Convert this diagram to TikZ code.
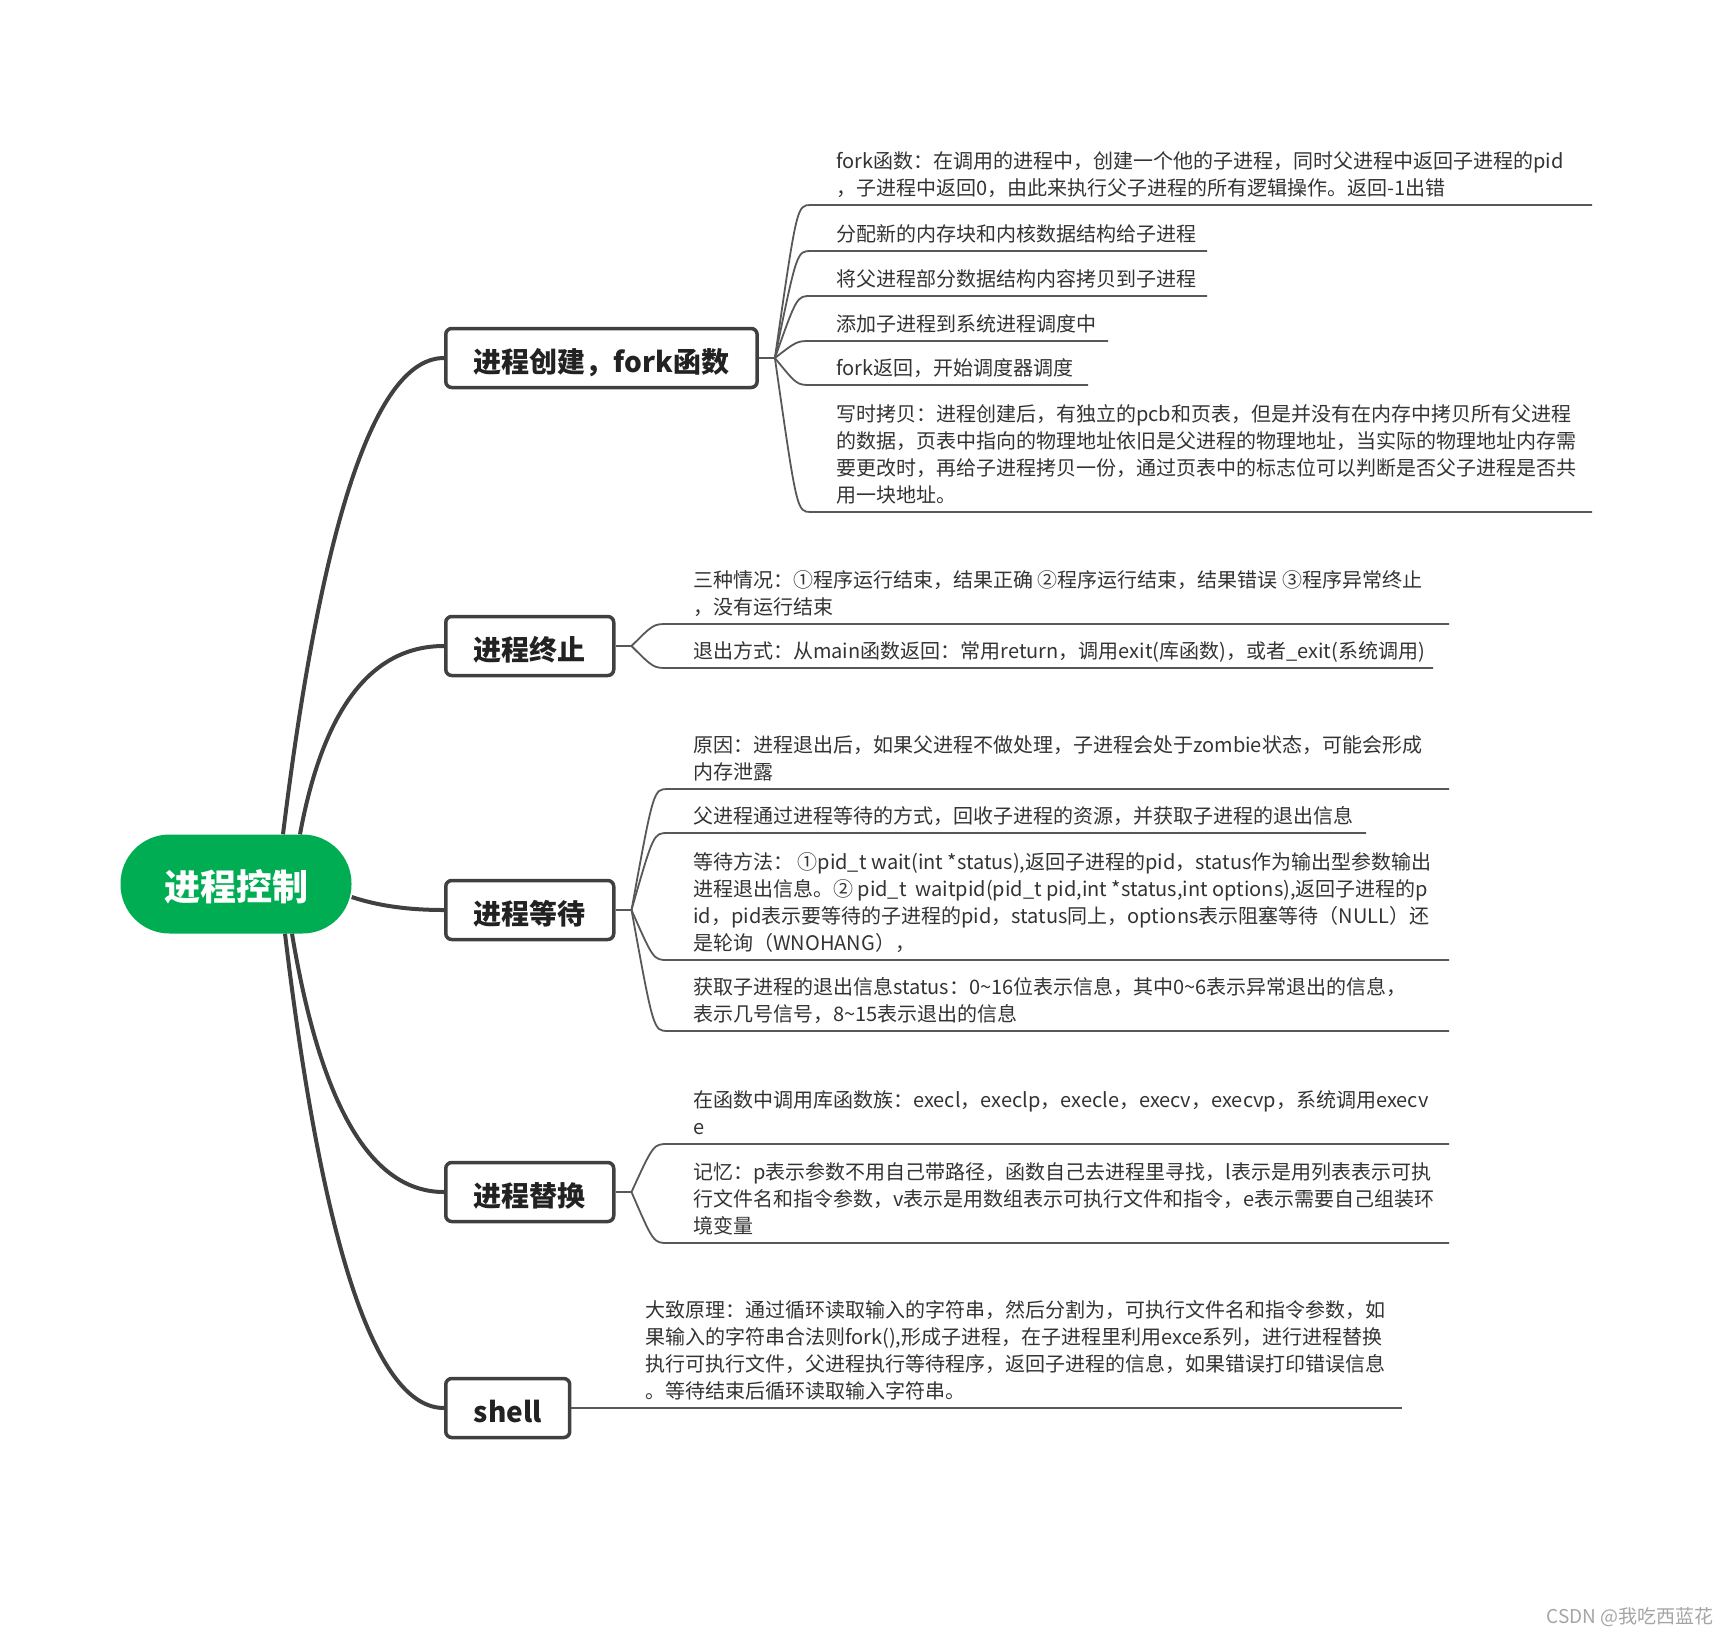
\documentclass[tikz,border=0pt]{standalone}
\usepackage{fontspec}
\setmainfont{Noto Sans CJK SC}
\usepackage{tikz}
\usetikzlibrary{positioning}
\definecolor{rootgreen}{RGB}{0,173,82}
\definecolor{linegray}{RGB}{64,64,64}
\definecolor{twiggray}{RGB}{88,88,88}
\definecolor{textgray}{RGB}{51,51,51}
\definecolor{topictext}{RGB}{34,34,34}
\definecolor{markgray}{RGB}{165,165,165}
\setlength{\parindent}{0pt}

\begin{document}
\begin{tikzpicture}[x=1pt, y=-1pt,
  root/.style={rectangle, rounded corners=49pt, fill=rootgreen, text=white,
               minimum width=231pt, minimum height=99pt,
               text height=33pt, text depth=1pt,
               font=\fontsize{36}{43}\selectfont\bfseries},
  topic/.style={rectangle, rounded corners=6pt, draw=linegray, line width=3.5pt,
                fill=white, anchor=west, minimum height=59pt, inner xsep=28pt,
                text height=28pt, text depth=0pt,
                text=topictext, font=\fontsize{28}{34}\selectfont\bfseries},
  leaf/.style={anchor=south west, inner xsep=0pt, inner ysep=1pt, align=left,
               text=textgray, font=\fontsize{20}{27}\selectfont},
  trunk/.style={draw=linegray, line width=4pt},
  twig/.style={draw=twiggray, line width=1.8pt},
  wmark/.style={anchor=east, inner sep=0pt, text=markgray, font=\fontsize{19}{22}\selectfont}
]
  \useasboundingbox (0,0) rectangle (1728,1635);

  \node[root]  (root) at (236,884)  {进程控制};
  \node[topic] (t1)   at (444,358)  {进程创建，fork函数};
  \node[topic] (t2)   at (444,646)  {进程终止};
  \node[topic] (t3)   at (444,910)  {进程等待};
  \node[topic] (t4)   at (444,1192) {进程替换};
  \node[topic] (t5)   at (444,1408) {shell};

  \node[leaf] (cr1) at (836,205) {fork函数：在调用的进程中，创建一个他的子进程，同时父进程中返回子进程的pid\\，子进程中返回0，由此来执行父子进程的所有逻辑操作。返回-1出错\strut};
  \node[leaf] (cr2) at (836,251) {分配新的内存块和内核数据结构给子进程\strut};
  \node[leaf] (cr3) at (836,296) {将父进程部分数据结构内容拷贝到子进程\strut};
  \node[leaf] (cr4) at (836,341) {添加子进程到系统进程调度中\strut};
  \node[leaf] (cr5) at (836,385) {fork返回，开始调度器调度\strut};
  \node[leaf] (cr6) at (836,512) {写时拷贝：进程创建后，有独立的pcb和页表，但是并没有在内存中拷贝所有父进程\\的数据，页表中指向的物理地址依旧是父进程的物理地址，当实际的物理地址内存需\\要更改时，再给子进程拷贝一份，通过页表中的标志位可以判断是否父子进程是否共\\用一块地址。\strut};

  \node[leaf] (te1) at (693,624) {三种情况：①程序运行结束，结果正确 ②程序运行结束，结果错误 ③程序异常终止\\，没有运行结束\strut};
  \node[leaf] (te2) at (693,668) {退出方式：从main函数返回：常用return，调用exit(库函数)，或者\_exit(系统调用)\strut};

  \node[leaf] (wa1) at (693,789)  {原因：进程退出后，如果父进程不做处理，子进程会处于zombie状态，可能会形成\\内存泄露\strut};
  \node[leaf] (wa2) at (693,833)  {父进程通过进程等待的方式，回收子进程的资源，并获取子进程的退出信息\strut};
  \node[leaf] (wa3) at (693,960)  {等待方法： ①pid\_t wait(int *status),返回子进程的pid，status作为输出型参数输出\\进程退出信息。② pid\_t\ \ waitpid(pid\_t pid,int *status,int options),返回子进程的p\\id，pid表示要等待的子进程的pid，status同上，options表示阻塞等待（NULL）还\\是轮询（WNOHANG），\strut};
  \node[leaf] (wa4) at (693,1031) {获取子进程的退出信息status：0\textasciitilde16位表示信息，其中0\textasciitilde6表示异常退出的信息，\\表示几号信号，8\textasciitilde15表示退出的信息\strut};

  \node[leaf] (re1) at (693,1144) {在函数中调用库函数族：execl，execlp，execle，execv，execvp，系统调用execv\\e\strut};
  \node[leaf] (re2) at (693,1243) {记忆：p表示参数不用自己带路径，函数自己去进程里寻找，l表示是用列表表示可执\\行文件名和指令参数，v表示是用数组表示可执行文件和指令，e表示需要自己组装环\\境变量\strut};

  \node[leaf] (sh1) at (645,1408) {大致原理：通过循环读取输入的字符串，然后分割为，可执行文件名和指令参数，如\\果输入的字符串合法则fork(),形成子进程，在子进程里利用exce系列，进行进程替换\\执行可执行文件，父进程执行等待程序，返回子进程的信息，如果错误打印错误信息\\。等待结束后循环读取输入字符串。\strut};

  \node[wmark] (wm) at (1714,1617) {CSDN @我吃西蓝花};

  \draw[trunk] ([xshift=47pt]root.north) .. controls +(39,-317) and +(-68,0) .. (t1.west);
  \draw[trunk] ([xshift=64pt]root.north) .. controls +(23,-125) and +(-73,0) .. (t2.west);
  \draw[trunk] ([yshift=-13pt]root.east) .. controls +(27,9) and +(-35,0) .. (t3.west);
  \draw[trunk] ([xshift=56pt]root.south) .. controls +(29,173) and +(-73,0) .. (t4.west);
  \draw[trunk] ([xshift=49pt]root.south) .. controls +(38,317) and +(-68,0) .. (t5.west);

  \coordinate (fcr) at ([xshift=16pt]t1.east);
  \coordinate (kcr) at ([xshift=38pt]t1.east);
  \draw[twig] (t1.east) -- (fcr);
  \draw[twig] (fcr) .. controls (kcr |- cr1.south) .. ([xshift=-25pt]cr1.south west) -- ++(781,0);
  \draw[twig] (fcr) .. controls (kcr |- cr2.south) .. ([xshift=-25pt]cr2.south west) -- ++(396,0);
  \draw[twig] (fcr) .. controls (kcr |- cr3.south) .. ([xshift=-25pt]cr3.south west) -- ++(396,0);
  \draw[twig] (fcr) .. controls (kcr |- cr4.south) .. ([xshift=-25pt]cr4.south west) -- ++(297,0);
  \draw[twig] (fcr) .. controls (kcr |- cr5.south) .. ([xshift=-25pt]cr5.south west) -- ++(277,0);
  \draw[twig] (fcr) .. controls (kcr |- cr6.south) .. ([xshift=-25pt]cr6.south west) -- ++(781,0);

  \coordinate (fte) at ([xshift=16pt]t2.east);
  \coordinate (kte) at ([xshift=38pt]t2.east);
  \draw[twig] (t2.east) -- (fte);
  \draw[twig] (fte) .. controls (kte |- te1.south) .. ([xshift=-25pt]te1.south west) -- ++(781,0);
  \draw[twig] (fte) .. controls (kte |- te2.south) .. ([xshift=-25pt]te2.south west) -- ++(765,0);

  \coordinate (fwa) at ([xshift=16pt]t3.east);
  \coordinate (kwa) at ([xshift=38pt]t3.east);
  \draw[twig] (t3.east) -- (fwa);
  \draw[twig] (fwa) .. controls (kwa |- wa1.south) .. ([xshift=-25pt]wa1.south west) -- ++(781,0);
  \draw[twig] (fwa) .. controls (kwa |- wa2.south) .. ([xshift=-25pt]wa2.south west) -- ++(698,0);
  \draw[twig] (fwa) .. controls (kwa |- wa3.south) .. ([xshift=-25pt]wa3.south west) -- ++(781,0);
  \draw[twig] (fwa) .. controls (kwa |- wa4.south) .. ([xshift=-25pt]wa4.south west) -- ++(781,0);

  \coordinate (fre) at ([xshift=16pt]t4.east);
  \coordinate (kre) at ([xshift=38pt]t4.east);
  \draw[twig] (t4.east) -- (fre);
  \draw[twig] (fre) .. controls (kre |- re1.south) .. ([xshift=-25pt]re1.south west) -- ++(781,0);
  \draw[twig] (fre) .. controls (kre |- re2.south) .. ([xshift=-25pt]re2.south west) -- ++(781,0);

  \draw[twig] (t5.east) -- (sh1.south west) -- ++(757,0);
\end{tikzpicture}
\end{document}
